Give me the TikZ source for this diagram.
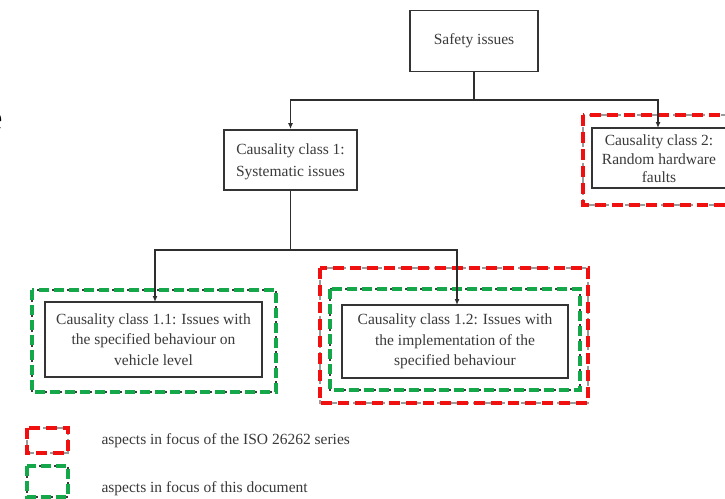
\documentclass[tikz,border=0pt]{standalone}
\usepackage{fontspec}
\setmainfont{Liberation Serif}
\usetikzlibrary{arrows.meta}
\definecolor{ink}{HTML}{3A3A3A}
\definecolor{isored}{HTML}{F01010}
\definecolor{docgreen}{HTML}{14A84A}
\definecolor{dashgray}{HTML}{9A9A9A}
\begin{document}
\begin{tikzpicture}[x=1pt,y=-1pt,
  box/.style={draw=ink!90!black,line width=1.8pt,text=ink,align=center,
    font=\fontsize{15.5}{20.5}\selectfont,inner sep=0pt},
  conn/.style={draw=ink!80!black,line width=1.2pt},
  arr/.style={conn,-{Latex[length=6pt,width=5pt]}},
  isoframe/.style={draw=isored,line width=3.6pt,dash pattern=on 11pt off 6pt},
  isounder/.style={draw=dashgray,line width=1.8pt,dash pattern=on 8pt off 4pt},
  docframe/.style={draw=docgreen,line width=3.6pt,dash pattern=on 10pt off 5pt},
  docunder/.style={draw=ink,line width=1.6pt,dash pattern=on 7pt off 3pt on 2pt off 3pt},
  legtext/.style={text=ink,anchor=west,font=\fontsize{15.5}{18}\selectfont}]
\useasboundingbox (0,0) rectangle (725,498);
\fill[white] (0,0) rectangle (725,498);

% stray letter at the left edge
\node[font=\fontsize{34}{34}\selectfont,text=black,anchor=center] (edge) at (-5,122) {e};

% focus frames
\draw[isounder] (583,115) rectangle (740,205);
\draw[isoframe] (583,115) rectangle (740,205);
\draw[isounder] (320,268) rectangle (588,403);
\draw[isoframe] (320,268) rectangle (588,403);
\draw[docunder] (32,290) rectangle (276,392);
\draw[docframe] (32,290) rectangle (276,392);
\draw[docunder] (330,289) rectangle (580,390);
\draw[docframe] (330,289) rectangle (580,390);

% boxes
\node[box,minimum width=128pt,minimum height=61pt] (safety) at (474,41) {Safety issues};
\node[box,minimum width=133pt,minimum height=60pt] (cc1) at (290.5,160) {\rule{0pt}{14pt}Causality class 1:\\[1pt]Systematic issues};
\node[box,minimum width=134pt,minimum height=60pt,font=\fontsize{15.5}{18.5}\selectfont] (cc2) at (659,158) {\rule{0pt}{13pt}Causality class 2:\\Random hardware\\faults};
\node[box,minimum width=217pt,minimum height=75pt] (cc11) at (153.5,339.5) {Causality class 1.1: Issues with\\the specified behaviour on\\vehicle level};
\node[box,minimum width=226pt,minimum height=73pt] (cc12) at (455,341.5) {Causality class 1.2: Issues with\\the implementation of the\\specified behaviour};

% connectors
\coordinate (j1) at (474,100);
\coordinate (j2) at (290.5,250);
\draw[conn] (safety.south) -- (j1);
\draw[arr] (j1) -- (290.5,100) -- (cc1.north);
\draw[arr] (j1) -- (658,100) -- (658,128);
\draw[conn] (cc1.south) -- (j2);
\draw[arr] (j2) -- (155,250) -- (155,302);
\draw[arr] (j2) -- (457,250) -- (457,305);

% legend
\draw[isounder] (27,428) rectangle (68,453);
\draw[isoframe] (27,428) rectangle (68,453);
\draw[docunder] (27,466) rectangle (68,497);
\draw[docframe] (27,466) rectangle (68,497);
\node[legtext] (leg1) at (98,441) {aspects in focus of the ISO 26262 series};
\node[legtext] (leg2) at (98,489) {aspects in focus of this document};
\end{tikzpicture}
\end{document}
